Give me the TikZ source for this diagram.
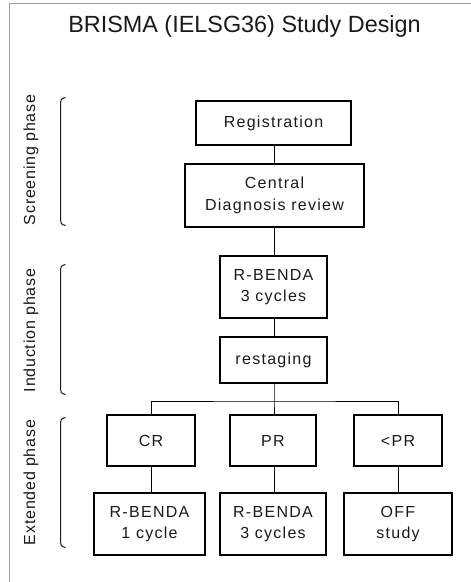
\documentclass[tikz,border=0pt]{standalone}
\usepackage{fontspec}
\setmainfont{Liberation Sans}
\newfontfamily\boxfam[LetterSpace=8]{Liberation Sans}
\newfontfamily\phasefam[LetterSpace=5]{Liberation Sans}
\definecolor{framegray}{HTML}{A0A0A0}
\definecolor{inkc}{HTML}{1A1A1A}
\tikzset{
  stepbox/.style={draw=black, line width=1.2pt, inner sep=0pt, align=center,
    font=\boxfam\fontsize{16}{21.5}\selectfont, text=inkc},
  phaselabel/.style={rotate=90, inner sep=0pt, font=\phasefam\fontsize{16}{18}\selectfont, text=inkc},
  link/.style={draw=black, line width=1pt},
  brace/.style={draw=inkc, line width=1pt},
}
\begin{document}
\begin{tikzpicture}[x=1pt,y=-1pt]
\useasboundingbox (0,0) rectangle (471,582);
% frame
\draw[framegray, line width=1pt] (9,582) -- (9,3) -- (471,3);
% title
\node[inner sep=0pt, font=\fontsize{23.4}{26}\selectfont, text=inkc] (title) at (244.5,26) {BRISMA (IELSG36) Study Design};
% boxes
\node[stepbox, minimum width=155pt, minimum height=44pt] (reg) at (273.5,123) {Registration};
\node[stepbox, minimum width=179pt, minimum height=63pt] (cdr) at (274.5,195.5) {Central\\Diagnosis review};
\node[stepbox, minimum width=107pt, minimum height=62pt] (rb3) at (273.5,287) {R-BENDA\\3 cycles};
\node[stepbox, minimum width=107pt, minimum height=46pt] (rest) at (273.5,360) {restaging};
\node[stepbox, minimum width=88pt, minimum height=51pt] (cr) at (151,440.5) {CR};
\node[stepbox, minimum width=86pt, minimum height=51pt] (pr) at (273,440.5) {PR};
\node[stepbox, minimum width=88pt, minimum height=51pt] (lpr) at (398,440.5) {<PR};
\node[stepbox, minimum width=111pt, minimum height=62pt] (rb1) at (149.5,524) {R-BENDA\\1 cycle};
\node[stepbox, minimum width=106pt, minimum height=62pt] (rb3b) at (273,524) {R-BENDA\\3 cycles};
\node[stepbox, minimum width=108pt, minimum height=62pt] (off) at (398,524) {OFF\\study};
% connectors
\coordinate (split) at (274,401);
\draw[link] (reg.south -| split) -- (cdr.north -| split);
\draw[link] (cdr.south -| split) -- (rb3.north -| split);
\draw[link] (rb3.south -| split) -- (rest.north -| split);
\draw[link] (rest.south -| split) -- (split) -- (pr.north -| split);
\draw[link] (cr.north) |- (split) -| (lpr.north);
\draw[link] (cr.south) -- (cr.south |- rb1.north);
\draw[link] (pr.south -| split) -- (rb3b.north -| split);
\draw[link] (lpr.south) -- (lpr.south |- off.north);
% phase labels
\node[phaselabel] (ls) at (31,160) {Screening phase};
\node[phaselabel] (li) at (31,330.5) {Induction phase};
\node[phaselabel] (le) at (31,482.5) {Extended phase};
% brackets
\draw[brace] (65.5,97.5) .. controls (61,98.5) and (60.5,100) .. (60.5,103) -- (60.5,220) .. controls (60.5,223) and (61,224.5) .. (65.5,225.5);
\draw[brace] (65.5,264.5) .. controls (61,265.5) and (60.5,267) .. (60.5,270) -- (60.5,389) .. controls (60.5,392) and (61,393.5) .. (65.5,394.5);
\draw[brace] (65.5,417.5) .. controls (61,418.5) and (60.5,420) .. (60.5,423) -- (60.5,542) .. controls (60.5,545) and (61,546.5) .. (65.5,547.5);
\end{tikzpicture}
\end{document}
